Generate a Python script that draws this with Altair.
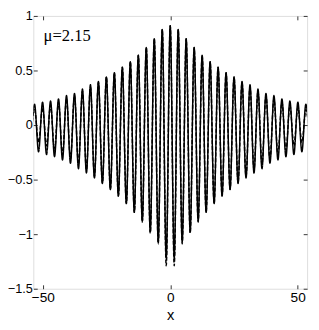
import altair as alt
import pandas as pd

# extrema positions (x >= 0); curve is symmetric about x=0
x_pos = [0, 1.57, 3.13, 4.70, 6.26, 7.83, 9.39, 10.96, 12.52, 14.09, 15.65, 17.22,
         18.78, 20.35, 21.91, 23.48, 25.04, 26.61, 28.17, 29.74, 31.30, 32.87, 34.43,
         36.00, 37.56, 39.13, 40.69, 42.26, 43.82, 45.39, 46.95, 48.52, 50.08, 51.65,
         53.21, 54.78]
solid_vals = [0.91, -1.22, 0.875, -1.07, 0.79, -0.98, 0.71, -0.88, 0.64, -0.80, 0.58, -0.72,
              0.53, -0.65, 0.48, -0.59, 0.44, -0.535, 0.40, -0.485, 0.37, -0.44, 0.33,
              -0.40, 0.29, -0.35, 0.27, -0.32, 0.24, -0.29, 0.22, -0.27, 0.21, -0.245,
              0.19, -0.23]
dashed_vals = [0.91, -1.29, 0.875, -1.09, 0.79, -0.99, 0.71, -0.89, 0.64, -0.80, 0.58, -0.72,
               0.53, -0.65, 0.48, -0.59, 0.44, -0.53, 0.39, -0.47, 0.35, -0.41, 0.31,
               -0.36, 0.27, -0.31, 0.24, -0.27, 0.21, -0.23, 0.18, -0.19, 0.16, -0.16,
               0.14, -0.13]

x_ticks = [-50, 0, 50]
y_ticks = [-1.5, -1, -0.5, 0, 0.5, 1]
label_text = "μ=2.15"

xs = [-v for v in reversed(x_pos[1:])] + x_pos
sol = list(reversed(solid_vals[1:])) + solid_vals
das = list(reversed(dashed_vals[1:])) + dashed_vals
n = len(xs)
df = pd.DataFrame({
    "x": xs + xs,
    "y": sol + das,
    "series": ["solid"] * n + ["dashed"] * n,
})

FONT = "Liberation Sans"
xscale = alt.Scale(domain=[-53.7, 53.7], nice=False, zero=False)
yscale = alt.Scale(domain=[-1.5, 1], nice=False, zero=False)

lines = alt.Chart(df).mark_line(interpolate="monotone", color="black", strokeWidth=1.5, clip=True).encode(
    x=alt.X("x:Q", scale=xscale, title="x",
            axis=alt.Axis(orient="bottom", values=x_ticks, format=".1~f", offset=-4, tickSize=4,
                          domain=False, grid=False, labelPadding=2, labelFont=FONT, labelFontSize=14,
                          labelColor="black", tickColor="#333", titleFont=FONT, titleFontSize=15,
                          titleFontWeight="normal", titleColor="black", titlePadding=4)),
    y=alt.Y("y:Q", scale=yscale, title=None,
            axis=alt.Axis(orient="left", values=y_ticks, format=".1~f", offset=-4, tickSize=4,
                          domain=False, grid=False, labelPadding=1, labelFont=FONT, labelFontSize=13,
                          labelColor="black", tickColor="#333")),
    strokeDash=alt.StrokeDash("series:N", scale=alt.Scale(domain=["solid", "dashed"],
                                                           range=[[1, 0], [4, 2]]), legend=None),
    detail="series:N",
)

frame_axes = alt.Chart(df).mark_line(opacity=0).encode(
    x=alt.X("x:Q", scale=xscale, title=None,
            axis=alt.Axis(orient="top", values=x_ticks, labels=False, offset=-4, tickSize=4,
                          domain=False, grid=False, tickColor="#333")),
    y=alt.Y("y:Q", scale=yscale, title=None,
            axis=alt.Axis(orient="right", values=y_ticks, labels=False, offset=-4, tickSize=4,
                          domain=False, grid=False, tickColor="#333")),
    detail="series:N",
)

label = alt.Chart(pd.DataFrame({"x": [-49.7], "y": [0.77], "t": [label_text]})).mark_text(
    align="left", baseline="alphabetic", font="Liberation Serif", fontSize=17, color="black"
).encode(x=alt.X("x:Q", scale=xscale, axis=None), y=alt.Y("y:Q", scale=yscale, axis=None), text="t:N")

chart = alt.layer(lines, frame_axes, label).resolve_axis(x="independent", y="independent").properties(
    width=281, height=280,
    autosize=alt.AutoSizeParams(type="none"),
    padding={"left": 26, "top": 4, "right": 4, "bottom": 30},
).configure_view(stroke="#333", strokeWidth=1).configure(background="white")

chart.save("out.html", embed_options={"renderer": "svg", "actions": False})
